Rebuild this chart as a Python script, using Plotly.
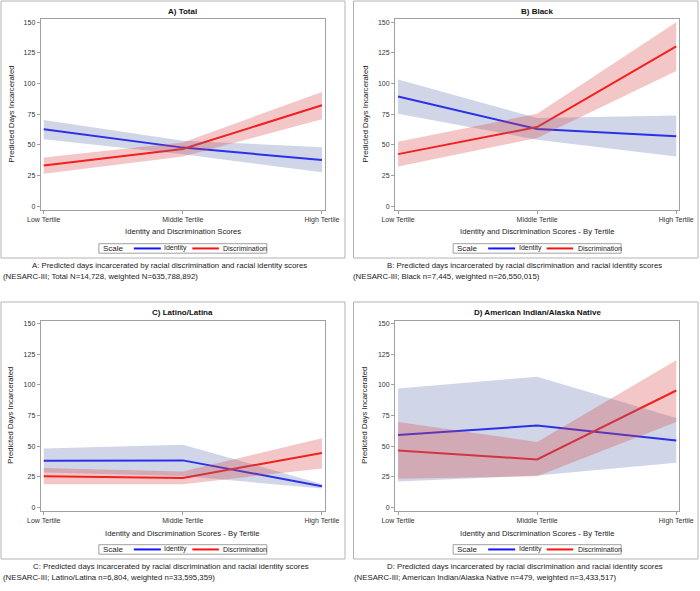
import plotly.graph_objects as go

# ---------------- data ----------------
tertiles = ["Low Tertile", "Middle Tertile", "High Tertile"]
tertile_pos = [0, 1, 2]
y_ticks = [0, 25, 50, 75, 100, 125, 150]

panel_titles = ["A) Total", "B) Black", "C) Latino/Latina", "D) American Indian/Alaska Native"]
x_titles = [
    "Identity and Discrimination Scores",
    "Identity and Discrimination Scores - By Tertile",
    "Identity and Discrimination Scores - By Tertile",
    "Identity and Discrimination Scores - By Tertile",
]
y_title = "Predicted Days Incarcerated"
series_names = ["Identity", "Discrimination"]
legend_title = "Scale"
caption_line1 = [
    "A: Predicted days incarcerated by racial discrimination and racial identity scores",
    "B: Predicted days incarcerated by racial discrimination and racial identity scores",
    "C: Predicted days incarcerated by racial discrimination and racial identity scores",
    "D: Predicted days incarcerated by racial discrimination and racial identity scores",
]
caption_line2 = [
    "(NESARC-III; Total N=14,728, weighted N=635,788,892)",
    "(NESARC-III; Black n=7,445, weighted n=26,550,015)",
    "(NESARC-III; Latino/Latina n=6,804, weighted n=33,595,359)",
    "(NESARC-III; American Indian/Alaska Native n=479, weighted n=3,433,517)",
]

# A) Total
total_identity = [62.8, 47.8, 37.8]
total_identity_lo = [54.6, 42.5, 27.7]
total_identity_hi = [70.4, 53.5, 48.1]
total_disc = [33.2, 46.7, 82.3]
total_disc_lo = [26.6, 40.5, 70.9]
total_disc_hi = [39.7, 52.0, 93.2]

# B) Black
black_identity = [89.4, 63.0, 57.0]
black_identity_lo = [75.5, 54.3, 40.6]
black_identity_hi = [103.3, 72.0, 73.9]
black_disc = [42.5, 64.6, 130.3]
black_disc_lo = [32.4, 55.6, 110.2]
black_disc_hi = [52.6, 75.5, 150.0]

# C) Latino/Latina
latino_identity = [38.0, 38.3, 17.2]
latino_identity_lo = [28.5, 25.5, 15.3]
latino_identity_hi = [48.1, 51.1, 19.1]
latino_disc = [25.4, 24.0, 44.3]
latino_disc_lo = [18.9, 18.9, 31.7]
latino_disc_hi = [32.0, 29.2, 56.3]

# D) American Indian/Alaska Native
aian_identity = [59.0, 66.7, 54.6]
aian_identity_lo = [21.0, 26.0, 36.3]
aian_identity_hi = [97.0, 106.6, 73.0]
aian_disc = [46.4, 39.1, 95.4]
aian_disc_lo = [23.2, 25.4, 69.7]
aian_disc_hi = [69.7, 53.3, 120.0]

panels = [
    (total_identity, total_identity_lo, total_identity_hi, total_disc, total_disc_lo, total_disc_hi),
    (black_identity, black_identity_lo, black_identity_hi, black_disc, black_disc_lo, black_disc_hi),
    (latino_identity, latino_identity_lo, latino_identity_hi, latino_disc, latino_disc_lo, latino_disc_hi),
    (aian_identity, aian_identity_lo, aian_identity_hi, aian_disc, aian_disc_lo, aian_disc_hi),
]

# ---------------- layout geometry (pixels) ----------------
W, H = 700, 591
FONT = "Liberation Sans, Arial, sans-serif"
frames_x = [(40.7, 325.0), (395.0, 679.3), (40.7, 325.0), (395.0, 679.3)]
frames_y = [(19.3, 209.7), (19.3, 209.7), (320.7, 510.7), (320.7, 510.7)]
outer_x = [(1, 345), (353.5, 698), (1, 345), (353.5, 698)]
outer_y = [(1, 258), (1, 258), (302, 559), (302, 559)]
ytitle_x = [11, 365, 11, 365]
cap1_x = [30, 385, 31, 385]
cap2_x = [1, 351, 1, 352]

line_colors = ["#1414ff", "#ff1010"]
band_colors = ["rgba(100,120,175,0.30)", "rgba(215,70,70,0.30)"]


def fx(p):
    return p / W


def fy(p):
    return 1 - p / H


fig = go.Figure()
layout = dict(
    template="none",
    width=W, height=H, margin=dict(l=0, r=0, t=0, b=0, pad=0), autosize=False,
    paper_bgcolor="white", plot_bgcolor="white",
    showlegend=False, font=dict(family=FONT, color="#222"),
)
shapes = []
annotations = []


def ann(text, x, y, size, xanchor="center", bold=False, angle=0, color="#222"):
    annotations.append(dict(
        text=("<b>%s</b>" % text) if bold else text,
        x=fx(x), y=fy(y), xref="paper", yref="paper",
        xanchor=xanchor, yanchor="middle", showarrow=False,
        textangle=angle, font=dict(family=FONT, size=size, color=color),
    ))


for i, (ident, ident_lo, ident_hi, disc, disc_lo, disc_hi) in enumerate(panels):
    sfx = "" if i == 0 else str(i + 1)
    xa, ya = "x" + sfx, "y" + sfx
    x0, x1 = frames_x[i]
    y0, y1 = frames_y[i]

    # lines (drawn first, bands overlay them as in the original)
    for vals, col, name in [(ident, line_colors[0], series_names[0]), (disc, line_colors[1], series_names[1])]:
        fig.add_trace(go.Scatter(x=tertile_pos, y=vals, mode="lines", name=name,
                                 line=dict(color=col, width=2), xaxis=xa, yaxis=ya,
                                 hoverinfo="skip", showlegend=False))
    # confidence bands
    for lo, hi, col in [(ident_lo, ident_hi, band_colors[0]), (disc_lo, disc_hi, band_colors[1])]:
        fig.add_trace(go.Scatter(x=tertile_pos + tertile_pos[::-1], y=hi + lo[::-1],
                                 mode="lines", fill="toself", fillcolor=col,
                                 line=dict(width=0, color="rgba(0,0,0,0)"),
                                 xaxis=xa, yaxis=ya, hoverinfo="skip", showlegend=False))

    common = dict(showgrid=False, zeroline=False, showline=True, mirror=True,
                  linecolor="#a0a0a0", linewidth=1, ticks="outside", ticklen=3,
                  tickcolor="#a0a0a0", tickfont=dict(family=FONT, size=7, color="#333"),
                  fixedrange=True, automargin=False)
    layout["xaxis" + sfx] = dict(common, domain=[fx(x0), fx(x1)], anchor=ya,
                                 range=[-0.022, 2.022], tickvals=tertile_pos, ticktext=tertiles)
    layout["yaxis" + sfx] = dict(common, domain=[fy(y1), fy(y0)], anchor=xa,
                                 range=[-2.8, 152.4], tickvals=y_ticks)

    cx = (x0 + x1) / 2
    # outer border
    ox0, ox1 = outer_x[i]
    oy0, oy1 = outer_y[i]
    shapes.append(dict(type="rect", xref="paper", yref="paper",
                       x0=fx(ox0), x1=fx(ox1), y0=fy(oy1), y1=fy(oy0),
                       line=dict(color="#b4b4b4", width=1), layer="below"))

    # titles
    ann(panel_titles[i], cx, y0 - 8, 8, bold=True, color="#111")
    ann(y_title, ytitle_x[i], (y0 + y1) / 2, 7.7, angle=-90)
    ann(x_titles[i], cx, y1 + 22.3, 7.7)

    # legend
    ly = y1 + 34
    lh = 9.5
    shapes.append(dict(type="rect", xref="paper", yref="paper",
                       x0=fx(cx - 84), x1=fx(cx + 84), y0=fy(ly + lh), y1=fy(ly),
                       line=dict(color="#a0a0a0", width=1), fillcolor="white"))
    ann(legend_title, cx - 82, ly + lh / 2, 8, xanchor="left")
    for (lx0, lx1, tx), col, name in [((cx - 49, cx - 22, cx - 20.5), line_colors[0], series_names[0]),
                                       ((cx + 9.5, cx + 36, cx + 38.5), line_colors[1], series_names[1])]:
        shapes.append(dict(type="line", xref="paper", yref="paper",
                           x0=fx(lx0), x1=fx(lx1), y0=fy(ly + lh / 2), y1=fy(ly + lh / 2),
                           line=dict(color=col, width=2)))
        ann(name, tx, ly + lh / 2, 7, xanchor="left")

    # captions
    ann(caption_line1[i], cap1_x[i], y1 + 56, 7.8, xanchor="left")
    ann(caption_line2[i], cap2_x[i], y1 + 67, 7.8, xanchor="left")

layout["shapes"] = shapes
layout["annotations"] = annotations
fig.update_layout(**layout)
fig.write_html(
    "out.html",
    config={"displayModeBar": False},
    post_script="document.body.style.margin='0';document.body.style.overflow='hidden';",
)
